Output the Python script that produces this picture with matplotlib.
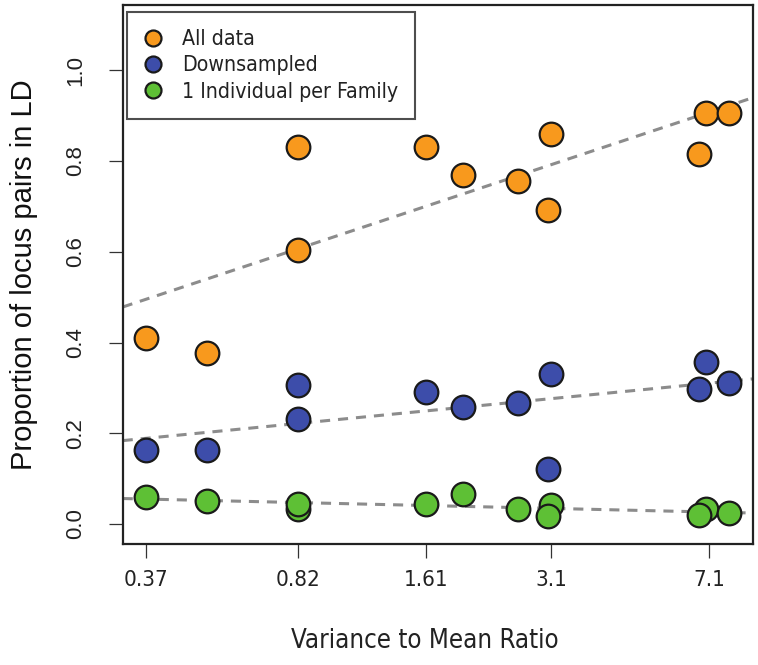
import numpy as np
import matplotlib
matplotlib.use("Agg")
import matplotlib.pyplot as plt
from matplotlib.lines import Line2D

# ---- data ----
vmr = [0.37, 0.51, 0.82, 0.82, 1.61, 1.95, 2.61, 3.10, 3.05, 7.00, 6.74, 7.89]
all_data = [0.409, 0.378, 0.604, 0.830, 0.830, 0.770, 0.755, 0.859, 0.693, 0.906, 0.815, 0.906]
downsampled = [0.163, 0.163, 0.232, 0.306, 0.291, 0.258, 0.266, 0.331, 0.121, 0.356, 0.298, 0.310]
one_per_family = [0.059, 0.050, 0.033, 0.045, 0.043, 0.067, 0.034, 0.041, 0.018, 0.032, 0.019, 0.024]

series_names = ["All data", "Downsampled", "1 Individual per Family"]
series_colors = ["#F8991D", "#3D4DAA", "#5EC035"]

xtick_vals = [0.37, 0.82, 1.61, 3.1, 7.1]
xtick_labels = ["0.37", "0.82", "1.61", "3.1", "7.1"]
ytick_vals = [0.0, 0.2, 0.4, 0.6, 0.8, 1.0]
ytick_labels = ["0.0", "0.2", "0.4", "0.6", "0.8", "1.0"]

xlim = (0.3274, 8.916)
ylim = (-0.044, 1.144)

cond = dict(family="DejaVu Sans", fontstretch="condensed")
arial = dict(family="Liberation Sans")

fig = plt.figure(figsize=(7.58, 6.65), dpi=100)
ax = fig.add_axes([0.1619, 0.182, 0.831, 0.8105])
ax.set_xscale("log")
ax.set_xlim(*xlim)
ax.set_ylim(*ylim)

x = np.array(vmr)
lx = np.log10(x)
xline = np.array(xlim)
for ys in (all_data, downsampled, one_per_family):
    b, a = np.polyfit(lx, np.array(ys), 1)
    ln, = ax.plot(xline, a + b * np.log10(xline), color="#8C8C8C", lw=2.2, zorder=1)
    ln.set_dashes((3.3, 2.6))

for ys, c in zip((all_data, downsampled, one_per_family), series_colors):
    ax.scatter(x, ys, s=290, facecolor=c, edgecolor="#1A1A1A", linewidths=1.6, zorder=3)

ax.minorticks_off()
ax.set_xticks(xtick_vals)
ax.set_xticklabels(xtick_labels, fontsize=16, color="#222222", **cond)
ax.set_yticks(ytick_vals)
ax.set_yticklabels(ytick_labels, fontsize=16, rotation=90, va="center", color="#222222", **arial)
ax.tick_params(axis="both", which="major", direction="out", length=10, width=0.9, color="#333333")
ax.tick_params(axis="x", pad=9)
ax.tick_params(axis="y", pad=16)
for sp in ax.spines.values():
    sp.set_linewidth(1.6)
    sp.set_color("#222222")

ax.set_xlabel("Variance to Mean Ratio", fontsize=18.5, color="#222222", labelpad=26, **cond)
ax.xaxis.set_label_coords(0.48, -0.155)
ax.set_ylabel("Proportion of locus pairs in LD", fontsize=21, color="#111111", labelpad=20, **arial)

handles = [Line2D([], [], marker="o", linestyle="none", markersize=11.5,
                  markerfacecolor=c, markeredgecolor="#1A1A1A", markeredgewidth=1.6)
           for c in series_colors]
leg = ax.legend(handles, series_names, loc="upper left", bbox_to_anchor=(0.0068, 0.987),
                borderaxespad=0, frameon=True, fancybox=False, edgecolor="#222222",
                prop=dict(size=15.3, stretch="condensed", family="DejaVu Sans"),
                handletextpad=1.0, labelspacing=0.3, borderpad=0.8, handlelength=0.8)
leg.get_frame().set_linewidth(1.5)
for t in leg.get_texts():
    t.set_color("#222222")

fig.savefig("out.png", dpi=100)
